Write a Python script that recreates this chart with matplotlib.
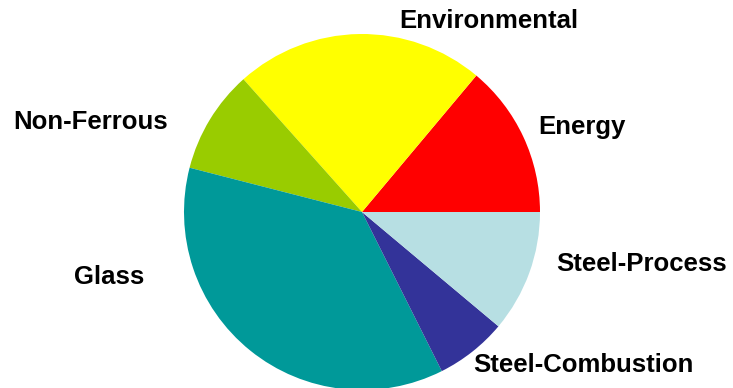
import matplotlib
matplotlib.use("Agg")
import matplotlib.pyplot as plt

categories = ["Energy", "Environmental", "Non-Ferrous", "Glass", "Steel-Combustion", "Steel-Process"]
values = [13.9, 22.7, 9.4, 36.4, 6.5, 11.1]
colors = ["#FF0000", "#FFFF00", "#99CC00", "#009999", "#333399", "#B7DFE3"]

# label centre positions in image pixels (x, y from top)
label_pos = [(582, 127), (489, 21), (91, 122), (109, 277), (583, 365), (642, 264)]

W, H = 733, 388
fig = plt.figure(figsize=(W / 100, H / 100), dpi=100)
ax = fig.add_axes([0, 0, 1, 1])
ax.set_xlim(0, W)
ax.set_ylim(0, H)
ax.set_aspect("equal")
ax.axis("off")

ax.pie(values, colors=colors, startangle=0, counterclock=True,
       center=(362, H - 212), radius=178, frame=True,
       wedgeprops=dict(linewidth=0))
ax.set_xlim(0, W)
ax.set_ylim(0, H)
ax.axis("off")

for name, (x, y) in zip(categories, label_pos):
    ax.text(x, H - y, name, ha="center", va="center", fontsize=18.5,
            fontweight="bold", family="Liberation Sans", color="black")

fig.savefig("out.png", dpi=100)
